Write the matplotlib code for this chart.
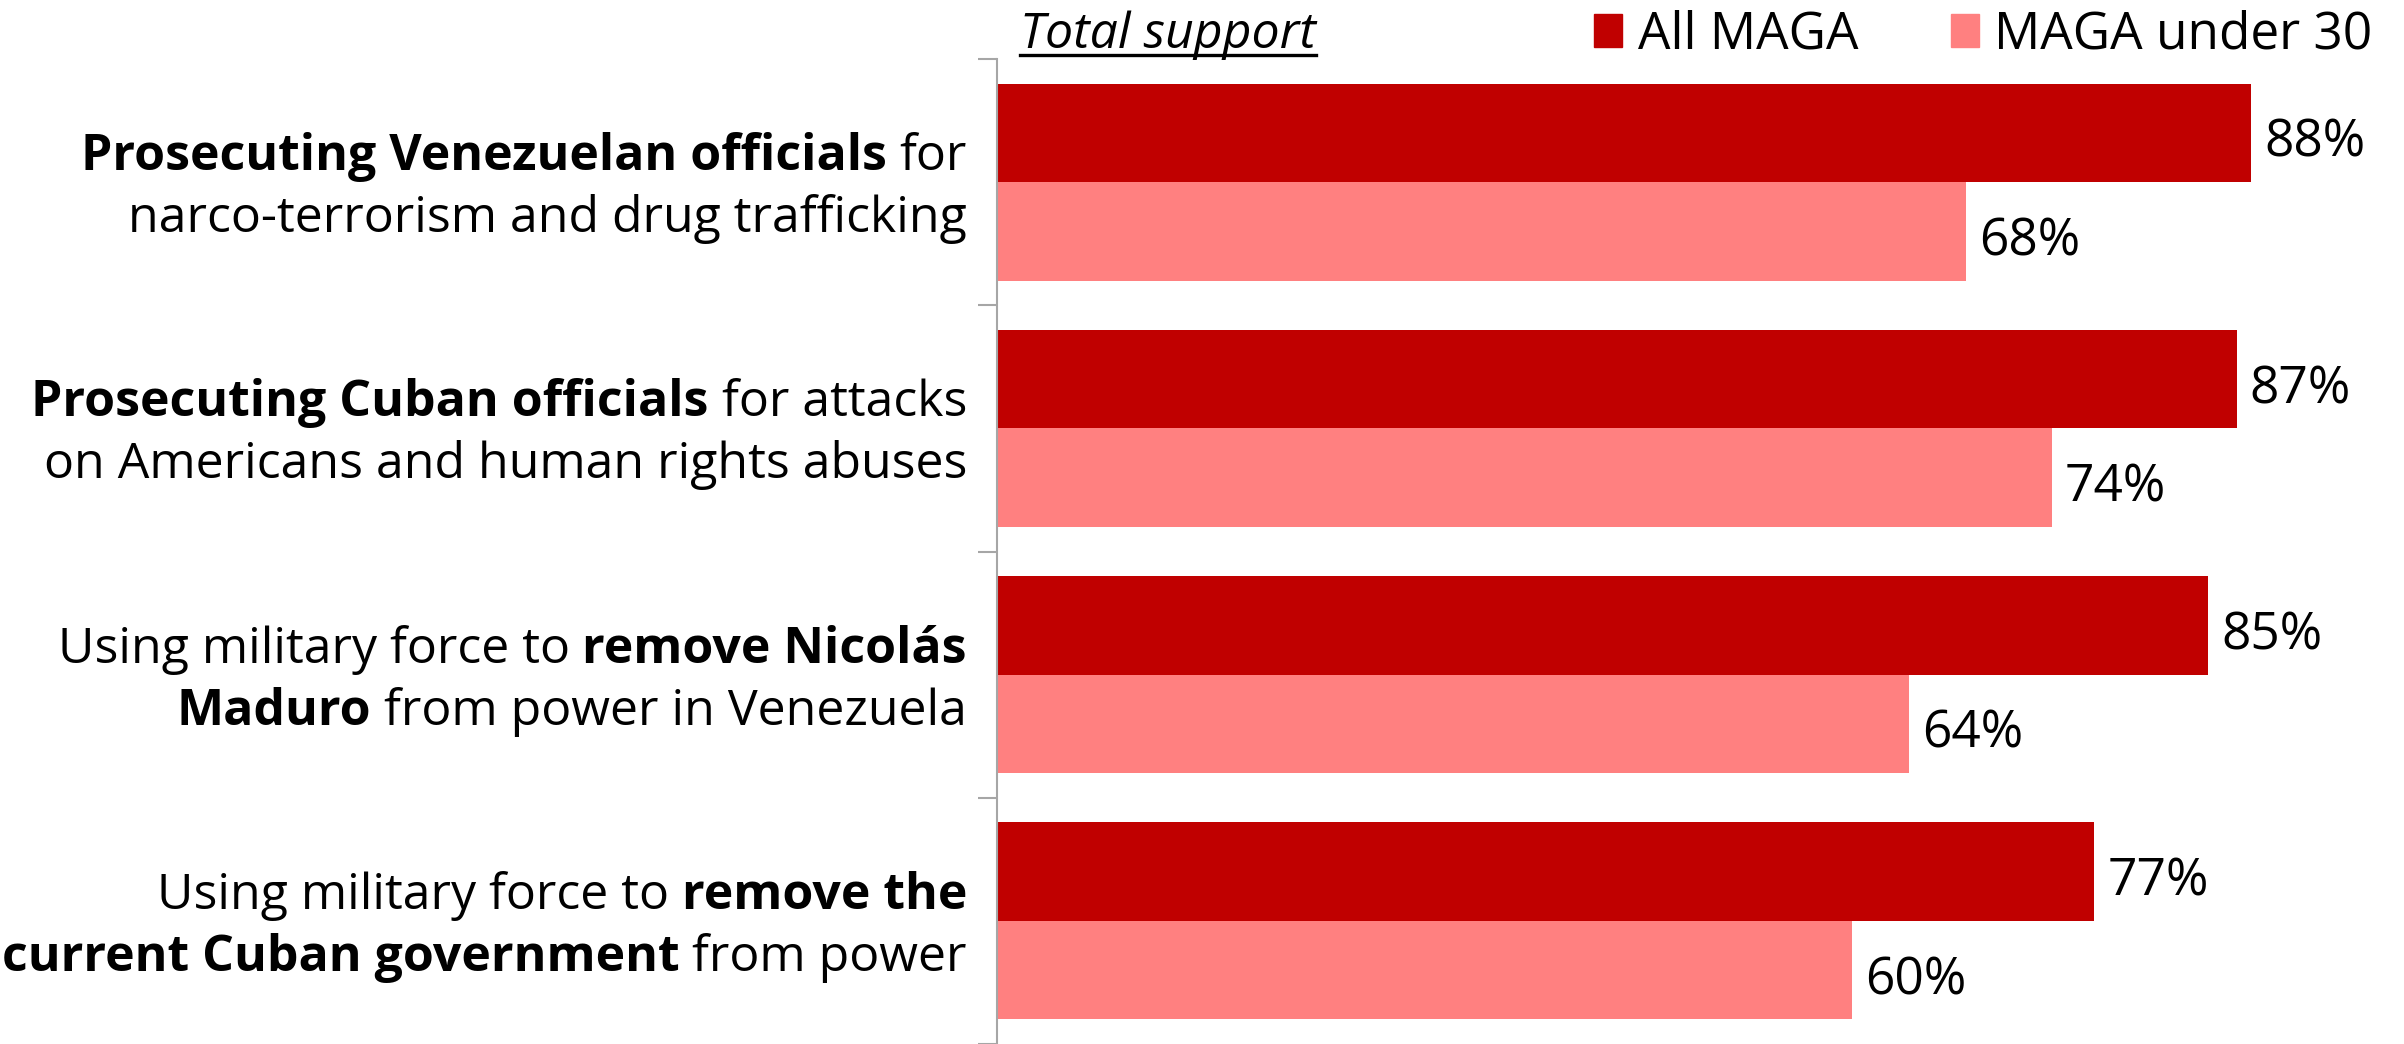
import numpy as np
import matplotlib
matplotlib.use("Agg")
import matplotlib.pyplot as plt
from matplotlib.patches import Patch
from matplotlib.lines import Line2D

# Datos del gráfico (porcentaje de apoyo)
all_maga = [88, 87, 85, 77]
under_30 = [68, 74, 64, 60]
series_names = ["All MAGA", "MAGA under 30"]
colors = ["#C00000", "#FF8080"]

# Etiquetas: cada línea es una lista de (texto, negrita)
labels = [
    [[("Prosecuting Venezuelan officials", True), ("for", False)],
     [("narco-terrorism and drug trafficking", False)]],
    [[("Prosecuting Cuban officials", True), ("for attacks", False)],
     [("on Americans and human rights abuses", False)]],
    [[("Using military force to", False), ("remove Nicolás", True)],
     [("Maduro", True), ("from power in Venezuela", False)]],
    [[("Using military force to", False), ("remove the", True)],
     [("current Cuban government", True), ("from power", False)]],
]

FONT = "Open Sans"
FS = 36
FS_VAL = 37
FS_LEG = 37
DPI = 100
W, H = 2404, 1044

plt.rcParams["font.family"] = [FONT, "DejaVu Sans"]

fig = plt.figure(figsize=(W / DPI, H / DPI), dpi=DPI)
ax_left, ax_top = 997, 59
ax = fig.add_axes([ax_left / W, 0, (W - ax_left) / W, (H - ax_top) / H])

cat_px = 247.0
y = np.arange(len(all_maga))
bar_h = 0.4
ax.barh(y - 0.2, all_maga, height=bar_h, color=colors[0])
ax.barh(y + 0.2, under_30, height=bar_h, color=colors[1])

ax.set_xlim(0, (W - ax_left) / 14.25)
ax.set_ylim(3.5 - (1047 - H) / cat_px, -0.5)

# Ejes: solo la línea izquierda con marcas entre categorías
for s in ["top", "right", "bottom"]:
    ax.spines[s].set_visible(False)
ax.spines["left"].set_color("#A6A6A6")
ax.spines["left"].set_linewidth(1.5)
ax.set_xticks([])
ax.set_yticks(np.arange(-0.5, 4.0, 1.0))
ax.set_yticklabels([])
ax.tick_params(axis="y", length=14, width=1.5, color="#A6A6A6")

# Etiquetas de valor
pt = 72.0 / DPI
for vals, off in [(all_maga, -0.2), (under_30, 0.2)]:
    for i, v in enumerate(vals):
        ax.annotate(f"{v}%", xy=(v, i + off), xytext=(13 * pt, -24 * pt),
                    textcoords="offset points", ha="left", va="baseline",
                    fontsize=FS_VAL, color="black")

# Etiquetas de categoría con partes en negrita
renderer = fig.canvas.get_renderer()


def text_width(s, bold):
    t = fig.text(0, 0, s, fontsize=FS, fontweight="bold" if bold else "normal")
    w = t.get_window_extent(renderer).width
    t.remove()
    return w


space_w = text_width("n n", False) - text_width("nn", False)
right_gap = 30
line_offsets = [-12, 50]
trans = ax.get_yaxis_transform()
for i, lines in enumerate(labels):
    for line, dy in zip(lines, line_offsets):
        x = -right_gap
        for s, bold in reversed(line):
            ax.annotate(s, xy=(0, i), xycoords=trans, xytext=(x * pt, -dy * pt),
                        textcoords="offset points", ha="right", va="baseline",
                        fontsize=FS, fontweight="bold" if bold else "normal")
            x -= text_width(s, bold) + space_w

# Título "Total support" subrayado
t = fig.text(1020 / W, 1 - 48 / H, "Total support", fontsize=FS, style="italic",
             ha="left", va="baseline")
bb = t.get_window_extent(renderer)
fig.add_artist(Line2D([bb.x0 / W, bb.x1 / W], [1 - 55 / H, 1 - 55 / H],
                      color="black", linewidth=2.4))

# Leyenda
handles = [Patch(color=c, label=n) for c, n in zip(colors, series_names)]
fig.legend(handles=handles, loc="center left", bbox_to_anchor=(1594 / W, 1 - 35 / H),
           ncol=2, frameon=False, fontsize=FS_LEG, handlelength=0.55, handleheight=0.6,
           handletextpad=0.3, columnspacing=1.8, borderpad=0, borderaxespad=0)

fig.savefig("out.png", dpi=DPI)
